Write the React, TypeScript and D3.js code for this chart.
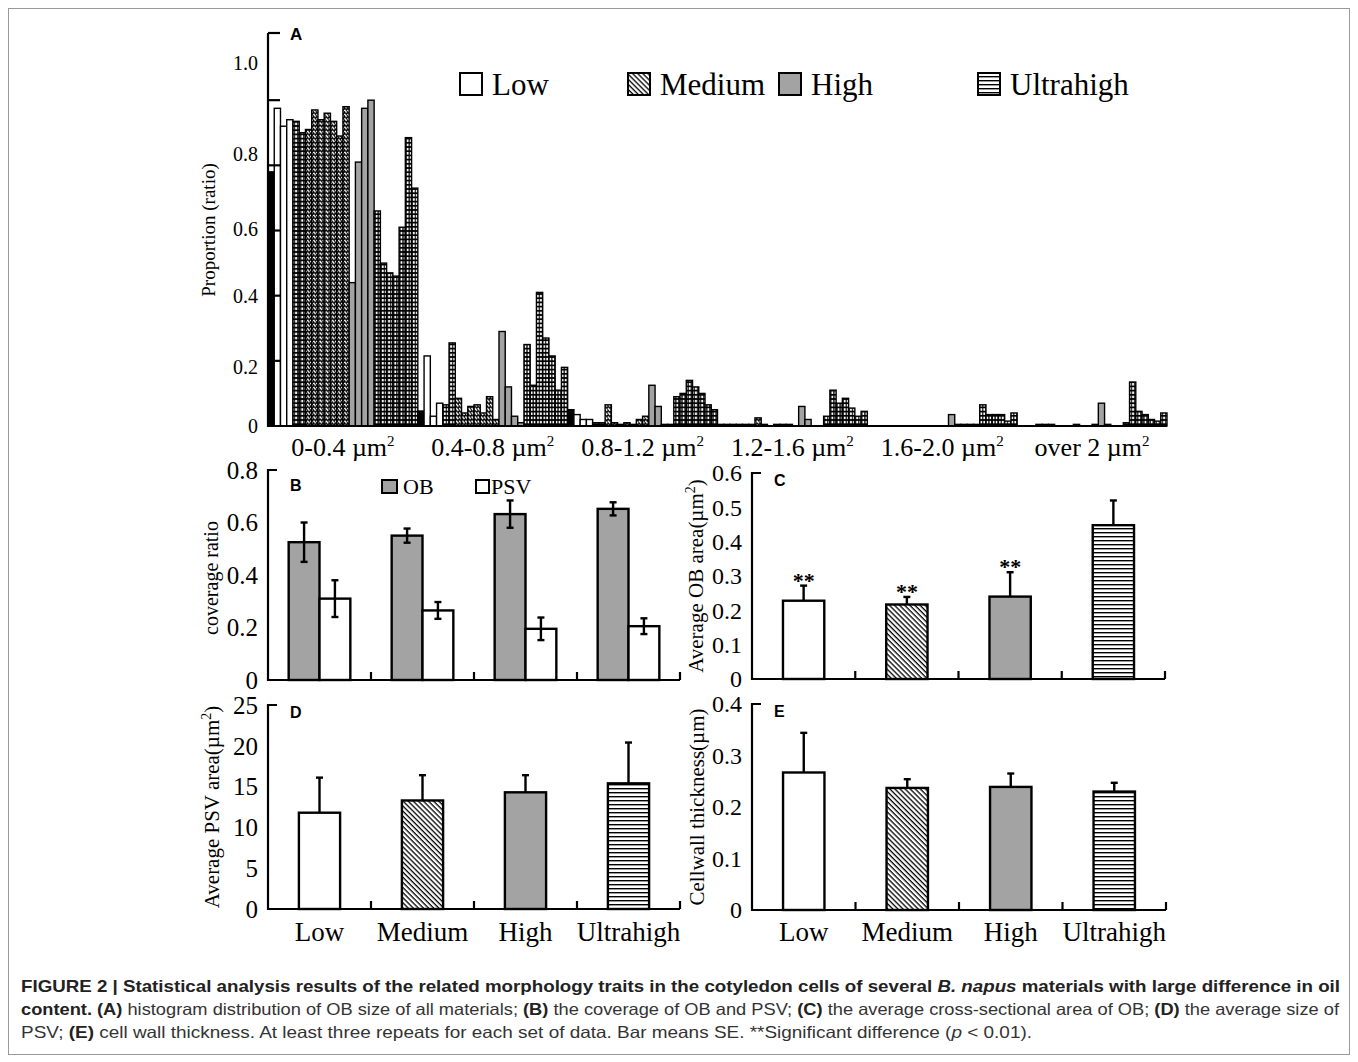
import React from 'react';
import * as d3 from 'd3';

const SERIF = '"Liberation Serif", "Times New Roman", Times, serif';
const SANS = '"Liberation Sans", Arial, Helvetica, sans-serif';
const NARROW = '"Liberation Sans Narrow", "Arial Narrow", "Liberation Sans", Arial, sans-serif';

// ---- panel A: OB size histogram ----
const sizeClasses = ['0-0.4', '0.4-0.8', '0.8-1.2', '1.2-1.6', '1.6-2.0', 'over 2'];
// fill kind of each material slot: K black, L low, M medium, H high, U ultrahigh
const slotKinds = ['K', 'L', 'L', 'L', 'U', 'U', 'M', 'M', 'M', 'M', 'M', 'M', 'M', 'H', 'H', 'H', 'H', 'U', 'U', 'U', 'U', 'U', 'U', 'U'];
const histClass1 = [0.78, 0.975, 0.92, 0.94, 0.935, 0.9, 0.91, 0.97, 0.94, 0.96, 0.935, 0.89, 0.98, 0.44, 0.81, 0.975, 1.0, 0.66, 0.5, 0.47, 0.46, 0.61, 0.885, 0.73];
const histClass2 = [0.046, 0.215, 0.03, 0.07, 0.065, 0.255, 0.085, 0.04, 0.06, 0.065, 0.04, 0.09, 0.02, 0.29, 0.12, 0.03, 0.01, 0.25, 0.125, 0.41, 0.27, 0.215, 0.11, 0.18];
const histClass3 = [0.05, 0.035, 0.02, 0.02, 0.01, 0.01, 0.065, 0.01, 0.005, 0.01, 0.005, 0.02, 0.03, 0.125, 0.06, 0.005, 0.005, 0.09, 0.1, 0.14, 0.12, 0.1, 0.065, 0.05];
const histClass4 = [0.005, 0.005, 0.005, 0.005, 0.005, 0.005, 0.025, 0.005, 0, 0.005, 0.005, 0.005, 0, 0.06, 0.02, 0, 0, 0.03, 0.11, 0.07, 0.085, 0.055, 0.03, 0.045];
const histClass5 = [0, 0, 0, 0, 0, 0, 0, 0, 0, 0, 0, 0, 0, 0.035, 0.005, 0.005, 0.005, 0.005, 0.065, 0.035, 0.035, 0.035, 0.015, 0.04];
const histClass6 = [0, 0, 0, 0.005, 0.005, 0.005, 0, 0, 0, 0.005, 0, 0, 0.005, 0.07, 0.005, 0, 0, 0.01, 0.135, 0.045, 0.035, 0.02, 0.015, 0.04];
const histTicks = [0, 0.2, 0.4, 0.6, 0.8, 1.0, 1.2];
const histTickLabels = ['0', '0.2', '0.4', '0.6', '0.8', '1.0'];
const histLabelAt = [0, 0.18, 0.4, 0.605, 0.835, 1.115]; // labels sit off their ticks in the original

// ---- panels B–E ----
const groups = ['Low', 'Medium', 'High', 'Ultrahigh'];
const obCoverage = [0.525, 0.55, 0.632, 0.652];
const obCoverageSE = [0.075, 0.027, 0.052, 0.025];
const psvCoverage = [0.31, 0.265, 0.195, 0.205];
const psvCoverageSE = [0.07, 0.032, 0.043, 0.03];
const obArea = [0.228, 0.217, 0.24, 0.448];
const obAreaSE = [0.044, 0.022, 0.071, 0.072];
const obAreaSig = ['**', '**', '**', ''];
const psvArea = [11.8, 13.3, 14.3, 15.4];
const psvAreaSE = [4.3, 3.1, 2.1, 5.0];
const wallThickness = [0.267, 0.237, 0.239, 0.23];
const wallThicknessSE = [0.077, 0.017, 0.026, 0.017];

const GRAY = '#a3a3a3';
const levelFill: Record<string, string> = {
  Low: '#fff',
  Medium: 'url(#hatch)',
  High: GRAY,
  Ultrahigh: 'url(#hlines)',
};
const kindFill: Record<string, string> = {
  K: '#000',
  L: '#fff',
  M: 'url(#histM)',
  H: GRAY,
  U: 'url(#histU)',
};

const fmt1 = (v: number) => (v === 0 ? '0' : d3.format('.1f')(v));

function ErrBar({ x, y0, y1, cap = 3.5 }: { x: number; y0: number; y1: number; cap?: number }) {
  return (
    <g stroke="#000" strokeWidth={2.4}>
      <line x1={x} x2={x} y1={y0} y2={y1} />
      <line x1={x - cap} x2={x + cap} y1={y1} y2={y1} />
    </g>
  );
}

function Frame({ x0, x1, y, yTop, ticks }: any) {
  return (
    <g stroke="#000" strokeWidth={2.2} fill="none">
      <path d={`M${x0 + 9},${yTop} H${x0} V${y} H${x1}`} />
      {ticks.map((t: number, i: number) => (
        <line key={i} x1={t} x2={t} y1={y} y2={y - 8} />
      ))}
    </g>
  );
}

function YTicks({ x, scale, ticks, format, size }: any) {
  return (
    <g fontFamily={SERIF} fontSize={size} textAnchor="end" fill="#000">
      {ticks.map((t: number, i: number) => (
        <text key={i} x={x - 10} y={scale(t)} dy="0.35em">{format(t)}</text>
      ))}
    </g>
  );
}

function LevelPanel({ x0, x1, y0, y1, max, step, values, se, letter, title, titleX, sig, showX, format, tickSize }: any) {
  const x = d3.scaleBand<string>().domain(groups).range([x0, x1]).paddingInner(0.6).paddingOuter(0.3);
  const y = d3.scaleLinear().domain([0, max]).range([y0, y1]);
  const ticks = d3.range(0, max + step / 2, step);
  const groupEdges = groups.map((g) => (x(g) as number) - x.step() * 0.3 + x.step());
  return (
    <g>
      {groups.map((g, i) => {
        const bx = x(g) as number;
        const cx = bx + x.bandwidth() / 2;
        return (
          <g key={g}>
            <rect x={bx} y={y(values[i])} width={x.bandwidth()} height={y(0) - y(values[i])}
              fill={levelFill[g]} stroke="#000" strokeWidth={2.4} />
            <ErrBar x={cx} y0={y(values[i])} y1={y(values[i] + se[i])} />
            {sig && sig[i] ? (
              <text x={cx} y={y(values[i] + se[i]) + 2} textAnchor="middle" fontFamily={SERIF}
                fontSize={22} fontWeight="bold">{sig[i]}</text>
            ) : null}
          </g>
        );
      })}
      <Frame x0={x0} x1={x1} y={y0} yTop={y1} ticks={groupEdges} />
      <YTicks x={x0} scale={y} ticks={ticks} format={format} size={tickSize || 25} />
      <text x={x0 + 22} y={y1 + 13} fontFamily={SANS} fontWeight="bold" fontSize={16}>{letter}</text>
      <text transform={`translate(${titleX},${(y0 + y1) / 2}) rotate(-90)`} textAnchor="middle"
        fontFamily={SERIF} fontSize={21}>{title}</text>
      {showX ? (
        <g fontFamily={SERIF} fontSize={27} textAnchor="middle">
          {groups.map((g) => (
            <text key={g} x={(x(g) as number) + x.bandwidth() / 2} y={941}>{g}</text>
          ))}
        </g>
      ) : null}
    </g>
  );
}

function um2(label: string) {
  return (
    <>
      {label}
      <tspan dy={-8} fontSize={14}>2</tspan>
      <tspan dy={8}>)</tspan>
    </>
  );
}

export default function App() {
  const histData = [histClass1, histClass2, histClass3, histClass4, histClass5, histClass6];

  // panel A scales
  const xA = d3.scaleBand<string>().domain(sizeClasses).range([268, 1167]);
  const xSlot = d3.scaleBand<number>().domain(d3.range(slotKinds.length)).range([0, xA.bandwidth()]);
  const yA = d3.scaleLinear().domain([0, 1.2]).range([426, 35]);

  // panel B scales
  const xB = d3.scaleBand<string>().domain(groups).range([268, 680]);
  const xBInner = d3.scaleBand<string>().domain(['OB', 'PSV']).range([0, xB.bandwidth()]).paddingOuter(0.67);
  const yB = d3.scaleLinear().domain([0, 0.8]).range([680, 470]);

  const legendA = [
    { g: 'Low', x: 460 },
    { g: 'Medium', x: 628 },
    { g: 'High', x: 779 },
    { g: 'Ultrahigh', x: 978 },
  ];

  return (
    <svg width={1358} height={1062} style={{ position: 'absolute', left: 0, top: 0, background: '#fff' }}>
      <defs>
        <pattern id="hatch" width={3.6} height={3.6} patternUnits="userSpaceOnUse" patternTransform="rotate(45)">
          <rect width={3.6} height={3.6} fill="#fff" />
          <rect width={3.6} height={1.3} fill="#000" />
        </pattern>
        <pattern id="hlines" width={4} height={4} patternUnits="userSpaceOnUse">
          <rect width={4} height={4} fill="#fff" />
          <rect width={4} height={1.4} fill="#000" />
        </pattern>
        <pattern id="histU" width={3.1} height={4.2} patternUnits="userSpaceOnUse">
          <rect width={3.1} height={4.2} fill="#000" />
          <rect x={0.6} y={0.9} width={1.9} height={2.4} fill="#fff" />
        </pattern>
        <pattern id="histM" width={3.1} height={4.2} patternUnits="userSpaceOnUse">
          <rect width={3.1} height={4.2} fill="#000" />
          <line x1={0.4} y1={0.6} x2={2.6} y2={3.4} stroke="#fff" strokeWidth={1.5} />
        </pattern>
      </defs>

      <rect x={8.5} y={8.5} width={1341} height={1046} fill="#fff" stroke="#9a9a9a" strokeWidth={1} />

      {/* ---- A ---- */}
      <g>
        {sizeClasses.map((c, ci) => (
          <g key={c}>
            {histData[ci].map((v, i) =>
              v > 0 ? (
                <rect key={i} x={(xA(c) as number) + (xSlot(i) as number)} y={yA(v)}
                  width={xSlot.bandwidth()} height={yA(0) - yA(v)}
                  fill={kindFill[slotKinds[i]]} stroke="#000" strokeWidth={1.4} />
              ) : null
            )}
          </g>
        ))}
        <g stroke="#000" strokeWidth={2.2} fill="none">
          <path d={`M268,${yA(1.2) - 2} V${yA(0)} H1167`} />
          <line x1={268} x2={280} y1={yA(1.2) - 2} y2={yA(1.2) - 2} />
          {histTicks.slice(1, 6).map((t) => (
            <line key={t} x1={268} x2={280} y1={yA(t)} y2={yA(t)} />
          ))}
        </g>
        <g fontFamily={SERIF} fontSize={20} textAnchor="end">
          {histTickLabels.map((l, i) => (
            <text key={l} x={258} y={yA(histLabelAt[i])} dy="0.35em">{l}</text>
          ))}
        </g>
        <g fontFamily={SERIF} fontSize={26} textAnchor="middle">
          {sizeClasses.map((c) => (
            <text key={c} x={(xA(c) as number) + xA.bandwidth() / 2} y={456}>
              {c} µm<tspan dy={-10} fontSize={15}>2</tspan>
            </text>
          ))}
        </g>
        <text x={290} y={40} fontFamily={SANS} fontWeight="bold" fontSize={17}>A</text>
        <text transform={`translate(215,230) rotate(-90)`} textAnchor="middle" fontFamily={SERIF}
          fontSize={19}>Proportion (ratio)</text>
        {legendA.map((d) => (
          <g key={d.g}>
            <rect x={d.x} y={73} width={22} height={22} fill={levelFill[d.g]} stroke="#000" strokeWidth={2} />
            <text x={d.x + 32} y={95} fontFamily={SERIF} fontSize={31}>{d.g}</text>
          </g>
        ))}
      </g>

      {/* ---- B ---- */}
      <g>
        {groups.map((g, i) => {
          const bx = xB(g) as number;
          const bars = [
            { k: 'OB', v: obCoverage[i], e: obCoverageSE[i], fill: GRAY },
            { k: 'PSV', v: psvCoverage[i], e: psvCoverageSE[i], fill: '#fff' },
          ];
          return (
            <g key={g}>
              {bars.map((b) => {
                const x0 = bx + (xBInner(b.k) as number);
                const cx = x0 + xBInner.bandwidth() / 2;
                return (
                  <g key={b.k}>
                    <rect x={x0} y={yB(b.v)} width={xBInner.bandwidth()} height={yB(0) - yB(b.v)}
                      fill={b.fill} stroke="#000" strokeWidth={2.4} />
                    <ErrBar x={cx} y0={yB(b.v - b.e)} y1={yB(b.v + b.e)} />
                    <line x1={cx - 3.5} x2={cx + 3.5} y1={yB(b.v - b.e)} y2={yB(b.v - b.e)} stroke="#000" strokeWidth={2.4} />
                  </g>
                );
              })}
            </g>
          );
        })}
        <Frame x0={268} x1={680} y={680} yTop={470}
          ticks={groups.map((g) => (xB(g) as number) + xB.bandwidth())} />
        <YTicks x={268} scale={yB} ticks={d3.range(0, 0.81, 0.2)} format={fmt1} size={25} />
        <text x={290} y={491} fontFamily={SANS} fontWeight="bold" fontSize={16}>B</text>
        <text transform={`translate(218,578) rotate(-90)`} textAnchor="middle" fontFamily={SERIF}
          fontSize={20}>coverage ratio</text>
        <rect x={382} y={480} width={15} height={13} fill={GRAY} stroke="#000" strokeWidth={2} />
        <text x={403} y={494} fontFamily={SERIF} fontSize={22}>OB</text>
        <rect x={476} y={480} width={13} height={13} fill="#fff" stroke="#000" strokeWidth={2} />
        <text x={491} y={494} fontFamily={SERIF} fontSize={22}>PSV</text>
      </g>

      {/* ---- C ---- */}
      <LevelPanel x0={752} x1={1165} y0={679} y1={473} max={0.6} step={0.1} values={obArea} se={obAreaSE}
        sig={obAreaSig} letter="C" format={fmt1} titleX={703} tickSize={24} title={um2('Average OB area(µm')} />

      {/* ---- D ---- */}
      <LevelPanel x0={268} x1={680} y0={909} y1={705} max={25} step={5} values={psvArea} se={psvAreaSE}
        letter="D" format={(v: number) => String(v)} showX titleX={219} title={um2('Average PSV area(µm')} />

      {/* ---- E ---- */}
      <LevelPanel x0={752} x1={1166} y0={910} y1={704} max={0.4} step={0.1} values={wallThickness}
        se={wallThicknessSE} letter="E" format={fmt1} showX titleX={704} tickSize={24} title="Cellwall thickness(µm)" />

      {/* ---- caption ---- */}
      <g fontFamily={NARROW} fontSize={16.5} fill="#333">
        <text x={21} y={992} textLength={1319} lengthAdjust="spacingAndGlyphs" fontWeight="bold" fill="#222">
          FIGURE 2 | Statistical analysis results of the related morphology traits in the cotyledon cells of several{' '}
          <tspan fontStyle="italic">B. napus</tspan> materials with large difference in oil
        </text>
        <text x={21} y={1015} textLength={1318} lengthAdjust="spacingAndGlyphs">
          <tspan fontWeight="bold" fill="#222">content. (A)</tspan> histogram distribution of OB size of all materials;{' '}
          <tspan fontWeight="bold" fill="#222">(B)</tspan> the coverage of OB and PSV;{' '}
          <tspan fontWeight="bold" fill="#222">(C)</tspan> the average cross-sectional area of OB;{' '}
          <tspan fontWeight="bold" fill="#222">(D)</tspan> the average size of
        </text>
        <text x={21} y={1038} textLength={1011} lengthAdjust="spacingAndGlyphs">
          PSV; <tspan fontWeight="bold" fill="#222">(E)</tspan> cell wall thickness. At least three repeats for each set of
          data. Bar means SE. **Significant difference (<tspan fontStyle="italic">p</tspan> {'<'} 0.01).
        </text>
      </g>
    </svg>
  );
}
